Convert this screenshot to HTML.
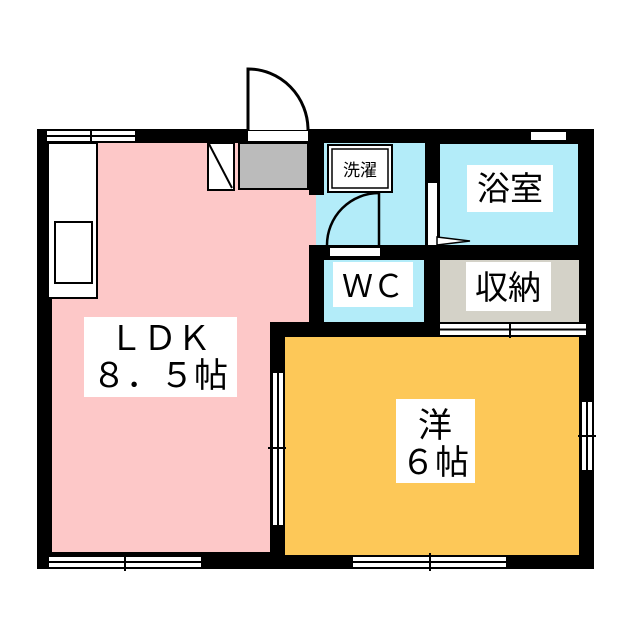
<!DOCTYPE html>
<html><head><meta charset="utf-8"><style>
body{margin:0;background:#fff}
svg{display:block}
text{font-family:"Liberation Sans","Noto Sans CJK JP",sans-serif;fill:#000}
</style></head><body>
<svg width="640" height="640" viewBox="0 0 640 640" xmlns="http://www.w3.org/2000/svg">
<rect width="640" height="640" fill="#fff"/>
<rect x="37" y="129" width="557" height="440" fill="#000"/>
<!-- LDK pink -->
<rect x="52" y="143" width="218" height="409" fill="#fdc8c8"/>
<rect x="270" y="143" width="39" height="179" fill="#fdc8c8"/>
<rect x="309" y="195" width="7" height="50" fill="#fdc8c8"/>
<!-- wash blue -->
<rect x="324" y="143" width="101" height="102" fill="#b3ecf9"/>
<rect x="316" y="195" width="109" height="50" fill="#b3ecf9"/>
<!-- bath -->
<rect x="440" y="144" width="138" height="101" fill="#b3ecf9"/>
<!-- WC -->
<rect x="324" y="260" width="100" height="62" fill="#b3ecf9"/>
<!-- storage -->
<rect x="440" y="260" width="139" height="62" fill="#d4d2c8"/>
<!-- yoshitsu -->
<rect x="285" y="337" width="294" height="218" fill="#fdc858"/>
<!-- counter -->
<rect x="48" y="143" width="49" height="155" fill="#fff" stroke="#000" stroke-width="2"/>
<rect x="55" y="222" width="37" height="61" fill="#fff" stroke="#000" stroke-width="2"/>
<!-- top-left window -->
<rect x="47" y="131" width="88" height="10" fill="#fff"/>
<line x1="47" y1="136" x2="135" y2="136" stroke="#000" stroke-width="2"/>
<line x1="91" y1="129" x2="91" y2="143" stroke="#000" stroke-width="2"/>
<!-- entrance -->
<rect x="248" y="131" width="60" height="10" fill="#fff"/>
<path d="M248 130 V69 A60 61 0 0 1 308 130" fill="#fff" stroke="#000" stroke-width="3"/>
<rect x="208" y="143" width="26" height="47" fill="#fff" stroke="#000" stroke-width="2"/>
<line x1="209" y1="144" x2="232" y2="188" stroke="#000" stroke-width="2"/>
<rect x="239" y="143" width="69" height="46" fill="#bbb" stroke="#000" stroke-width="2"/>
<!-- wash -->
<rect x="328" y="145" width="64" height="47" fill="#fff" stroke="#000" stroke-width="2"/>
<rect x="332" y="149" width="56" height="39" fill="#fff" stroke="#000" stroke-width="1.5"/>
<text x="360" y="176" font-size="17" text-anchor="middle">洗濯</text>
<path d="M379 245 V193 A52 52 0 0 0 327 245" fill="none" stroke="#000" stroke-width="2.5"/>
<!-- wash/bath wall -->
<rect x="428" y="183" width="9" height="62" fill="#fff"/>
<path d="M437 237 L470 241 L437 245 Z" fill="#fff" stroke="#000" stroke-width="1.5"/>
<rect x="330" y="248" width="50" height="8" fill="#fff"/>
<!-- bath window -->
<rect x="531" y="132" width="35" height="8" fill="#fff"/>
<!-- storage window -->
<rect x="440" y="324" width="146" height="11" fill="#fff"/>
<line x1="440" y1="329.5" x2="586" y2="329.5" stroke="#000" stroke-width="2"/>
<line x1="510" y1="322" x2="510" y2="338" stroke="#000" stroke-width="2"/>
<!-- LDK/yoshitsu window -->
<rect x="273" y="373" width="10" height="152" fill="#fff"/>
<line x1="278" y1="373" x2="278" y2="525" stroke="#000" stroke-width="2"/>
<line x1="268" y1="448" x2="286" y2="448" stroke="#000" stroke-width="2"/>
<!-- right window -->
<rect x="582" y="402" width="10" height="68" fill="#fff"/>
<line x1="587" y1="402" x2="587" y2="470" stroke="#000" stroke-width="2"/>
<line x1="578" y1="436" x2="596" y2="436" stroke="#000" stroke-width="2"/>
<!-- bottom windows -->
<rect x="49" y="557" width="152" height="10" fill="#fff"/>
<line x1="49" y1="562" x2="201" y2="562" stroke="#000" stroke-width="2"/>
<line x1="125" y1="553" x2="125" y2="571" stroke="#000" stroke-width="2"/>
<rect x="353" y="557" width="153" height="10" fill="#fff"/>
<line x1="353" y1="562" x2="506" y2="562" stroke="#000" stroke-width="2"/>
<line x1="430" y1="553" x2="430" y2="571" stroke="#000" stroke-width="2"/>
<!-- labels -->
<rect x="84" y="317" width="153" height="80" fill="#fff"/>
<text x="160" y="350" font-size="34" text-anchor="middle">ＬＤＫ</text>
<text x="160" y="387" font-size="34" text-anchor="middle">８．５帖</text>
<rect x="396" y="399" width="79" height="84" fill="#fff"/>
<text x="435" y="437" font-size="34" text-anchor="middle">洋</text>
<text x="435" y="474" font-size="34" text-anchor="middle">６帖</text>
<rect x="467" y="165" width="86" height="47" fill="#fff"/>
<text x="510" y="200" font-size="33" text-anchor="middle">浴室</text>
<rect x="333" y="262" width="80" height="45" fill="#fff"/>
<text x="373" y="297" font-size="31" text-anchor="middle">ＷＣ</text>
<rect x="466" y="262" width="85" height="49" fill="#fff"/>
<text x="508" y="299" font-size="33" text-anchor="middle">収納</text>
</svg>
</body></html>
